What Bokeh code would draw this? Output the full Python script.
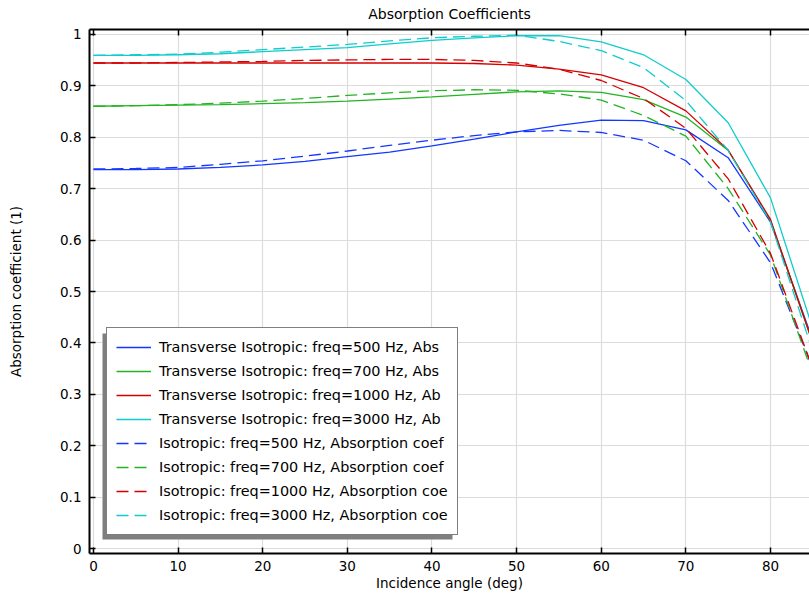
from bokeh.plotting import figure
from bokeh.models import (Range1d, FixedTicker, LinearAxis, Legend, LegendItem,
                          BoxAnnotation, CustomLabelingPolicy)
from bokeh.embed import file_html
from bokeh.resources import INLINE

angles = [0, 5, 10, 15, 20, 25, 30, 35, 40, 45, 50, 55, 60, 65, 70, 75, 80, 85]

ti_500 = [0.737, 0.737, 0.738, 0.741, 0.746, 0.753, 0.762, 0.771, 0.783, 0.796, 0.810, 0.823, 0.833, 0.832, 0.814, 0.760, 0.635, 0.405]
ti_700 = [0.860, 0.861, 0.862, 0.863, 0.865, 0.867, 0.870, 0.874, 0.878, 0.883, 0.888, 0.890, 0.887, 0.873, 0.839, 0.774, 0.638, 0.400]
ti_1000 = [0.944, 0.944, 0.944, 0.944, 0.944, 0.944, 0.944, 0.944, 0.944, 0.943, 0.940, 0.932, 0.921, 0.896, 0.851, 0.775, 0.640, 0.400]
ti_3000 = [0.959, 0.959, 0.960, 0.962, 0.966, 0.970, 0.974, 0.981, 0.988, 0.993, 0.997, 0.997, 0.985, 0.960, 0.912, 0.828, 0.682, 0.428]
iso_500 = [0.738, 0.739, 0.741, 0.747, 0.754, 0.763, 0.773, 0.784, 0.794, 0.803, 0.810, 0.813, 0.809, 0.794, 0.754, 0.677, 0.556, 0.351]
iso_700 = [0.860, 0.861, 0.863, 0.866, 0.870, 0.875, 0.881, 0.886, 0.890, 0.892, 0.891, 0.884, 0.872, 0.842, 0.802, 0.700, 0.571, 0.339]
iso_1000 = [0.944, 0.944, 0.945, 0.946, 0.947, 0.949, 0.950, 0.951, 0.951, 0.949, 0.944, 0.932, 0.910, 0.875, 0.817, 0.719, 0.574, 0.350]
iso_3000 = [0.959, 0.960, 0.961, 0.965, 0.970, 0.975, 0.980, 0.987, 0.993, 0.996, 0.998, 0.986, 0.968, 0.935, 0.871, 0.774, 0.635, 0.383]

series = [ti_500, ti_700, ti_1000, ti_3000, iso_500, iso_700, iso_1000, iso_3000]
labels = [
    "Transverse Isotropic: freq=500 Hz, Abs",
    "Transverse Isotropic: freq=700 Hz, Abs",
    "Transverse Isotropic: freq=1000 Hz, Ab",
    "Transverse Isotropic: freq=3000 Hz, Ab",
    "Isotropic: freq=500 Hz, Absorption coef",
    "Isotropic: freq=700 Hz, Absorption coef",
    "Isotropic: freq=1000 Hz, Absorption coe",
    "Isotropic: freq=3000 Hz, Absorption coe",
]
colors = ["#1437ff", "#22b422", "#d60000", "#10cccc"] * 2
dashes = ["solid"] * 4 + ["12 6"] * 4

x_ticks = [0, 10, 20, 30, 40, 50, 60, 70, 80]
y_ticks = [0, 0.1, 0.2, 0.3, 0.4, 0.5, 0.6, 0.7, 0.8, 0.9, 1]
y_tick_labels = ["0", "0.1", "0.2", "0.3", "0.4", "0.5", "0.6", "0.7", "0.8", "0.9", "1"]
title_text = "Absorption Coefficients"
x_label = "Incidence angle (deg)"
y_label = "Absorption coefficient (1)"

FONT = "DejaVu Sans"

p = figure(width=809, height=595, output_backend="svg", toolbar_location=None,
           x_range=Range1d(-0.47, 84.61), y_range=Range1d(-0.0091, 1.0091),
           min_border_left=89, min_border_right=0, min_border_top=27, min_border_bottom=42,
           title=title_text)
p.title.align = "center"
p.title.text_font = FONT
p.title.text_font_size = "14px"
p.title.text_font_style = "normal"
p.title.text_color = "#000000"
p.title.standoff = 7
p.outline_line_color = None
p.background_fill_color = "white"
p.border_fill_color = "white"

for ax in (p.xaxis[0], p.yaxis[0]):
    ax.axis_line_width = 2
    ax.axis_line_color = "#000000"
    ax.major_tick_in = 6
    ax.major_tick_out = 0
    ax.major_tick_line_color = "#000000"
    ax.major_tick_line_width = 1.5
    ax.minor_tick_line_color = None
    ax.major_label_text_font = FONT
    ax.major_label_text_font_size = "13.5px"
    ax.major_label_text_color = "#000000"
    ax.axis_label_text_font = FONT
    ax.axis_label_text_font_size = "13.5px"
    ax.axis_label_text_font_style = "normal"
    ax.axis_label_text_color = "#000000"

p.xaxis.ticker = FixedTicker(ticks=x_ticks)
p.yaxis.ticker = FixedTicker(ticks=y_ticks)
p.yaxis.major_label_overrides = {t: l for t, l in zip(y_ticks, y_tick_labels)}
p.xaxis.axis_label = x_label
p.yaxis.axis_label = y_label
p.xaxis.major_label_standoff = 7
p.xaxis.axis_label_standoff = 1
p.yaxis.major_label_standoff = 8
p.yaxis.axis_label_standoff = 33

hide_all = CustomLabelingPolicy(code="for (const i of indices) { indices.unset(i) }\nreturn indices")
top = LinearAxis(ticker=FixedTicker(ticks=x_ticks), major_tick_in=6, major_tick_out=0,
                 major_tick_line_width=1.5, minor_tick_line_color=None,
                 axis_line_width=2, major_label_text_font_size="1px",
                 major_label_standoff=0, major_label_policy=hide_all)
p.add_layout(top, "above")

p.xgrid.grid_line_color = "#dcdcdc"
p.ygrid.grid_line_color = "#dcdcdc"
p.xgrid.grid_line_width = 1.2
p.ygrid.grid_line_width = 1.2

items = []
for ys, lab, c, d in zip(series, labels, colors, dashes):
    r = p.line(angles, ys, line_color=c, line_width=1.3, line_dash=d)
    items.append(LegendItem(label=lab, renderers=[r]))

shadow = BoxAnnotation(left=13, right=363, bottom=14, top=220,
                       left_units="screen", right_units="screen",
                       bottom_units="screen", top_units="screen",
                       fill_color="#7f7f7f", fill_alpha=1.0, line_color=None)
p.add_layout(shadow)

legend = Legend(items=items, location=(17, 18), orientation="vertical",
                label_text_font=FONT, label_text_font_size="14.4px", label_text_color="#000000",
                glyph_width=35, glyph_height=20, label_height=20, label_standoff=8,
                spacing=4, padding=9, margin=0,
                border_line_color="#000000", border_line_width=1.2,
                background_fill_color="white", background_fill_alpha=1.0)
p.add_layout(legend, "center")

open("out.html", "w").write(file_html(p, INLINE))
